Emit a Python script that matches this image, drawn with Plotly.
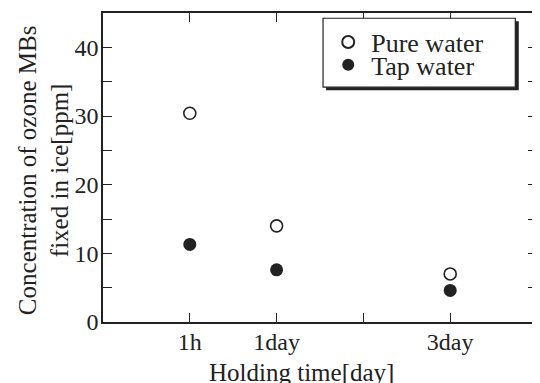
import plotly.graph_objects as go

categories = ["1h", "1day", "3day"]
holding_x = [0, 1, 3]
pure_water = [30.4, 14.0, 7.0]
tap_water = [11.3, 7.6, 4.6]
x_tickvals = [0, 1, 2, 3]
x_ticktext = ["1h", "1day", "", "3day"]
y_tickvals = [0, 10, 20, 30, 40]

FONT = "Liberation Serif, Times New Roman, serif"
INK = "#222222"

fig = go.Figure()
fig.add_trace(go.Scatter(
    x=holding_x, y=pure_water, mode="markers", name="Pure water",
    legend="legend",
    marker=dict(symbol="circle", size=12, color="white",
                line=dict(color=INK, width=1.6)),
))
fig.add_trace(go.Scatter(
    x=holding_x, y=tap_water, mode="markers", name="Tap water",
    legend="legend2",
    marker=dict(symbol="circle", size=13, color=INK,
                line=dict(color=INK, width=0)),
))

axis_common = dict(
    showline=True, linecolor=INK, linewidth=1.5, mirror="allticks",
    ticks="inside", ticklen=9, tickwidth=1.3, tickcolor=INK,
    showgrid=False, zeroline=False, automargin=False,
    tickfont=dict(family=FONT, size=24, color=INK),
)

legend_common = dict(
    xanchor="left", yanchor="middle",
    bgcolor="rgba(0,0,0,0)", borderwidth=0,
    font=dict(family=FONT, size=26, color=INK),
    itemsizing="constant", itemwidth=36,
)

# The page body adds an 8px offset, so the figure is 8px smaller each way
fig.update_layout(
    width=532, height=375,
    margin=dict(l=95, r=3, t=5, b=61),
    paper_bgcolor="white", plot_bgcolor="white",
    font=dict(family=FONT, color=INK),
    showlegend=True,
    legend=dict(x=0.512, y=0.906, **legend_common),
    legend2=dict(x=0.512, y=0.832, **legend_common),
    xaxis=dict(range=[-1, 4], tickvals=x_tickvals, ticktext=x_ticktext,
               ticklabelstandoff=-3, **axis_common),
    yaxis=dict(
        range=[0, 45], tickvals=y_tickvals, ticklabelstandoff=-2,
        minor=dict(dtick=5, ticks="inside", ticklen=9, tickcolor=INK, tickwidth=1.3),
        **axis_common,
    ),
    annotations=[
        dict(text="Holding time[day]", xref="paper", yref="paper",
             x=0.458, y=-0.163, xanchor="center", yanchor="middle",
             showarrow=False, font=dict(family=FONT, size=25, color=INK)),
        dict(text="Concentration of ozone MBs<br>fixed in ice[ppm]", xref="paper", yref="paper",
             x=-0.137, y=0.49, xanchor="center", yanchor="middle", textangle=-90,
             showarrow=False, font=dict(family=FONT, size=25, color=INK)),
    ],
    shapes=[
        dict(type="rect", xref="paper", yref="paper", layer="above",
             x0=0.514, x1=0.958, y0=0.75, y1=0.973,
             fillcolor=INK, line=dict(width=0)),
        dict(type="rect", xref="paper", yref="paper", layer="above",
             x0=0.507, x1=0.95, y0=0.76, y1=0.983,
             fillcolor="white", line=dict(color=INK, width=1.2)),
    ],
)

fig.write_html("out.html")
